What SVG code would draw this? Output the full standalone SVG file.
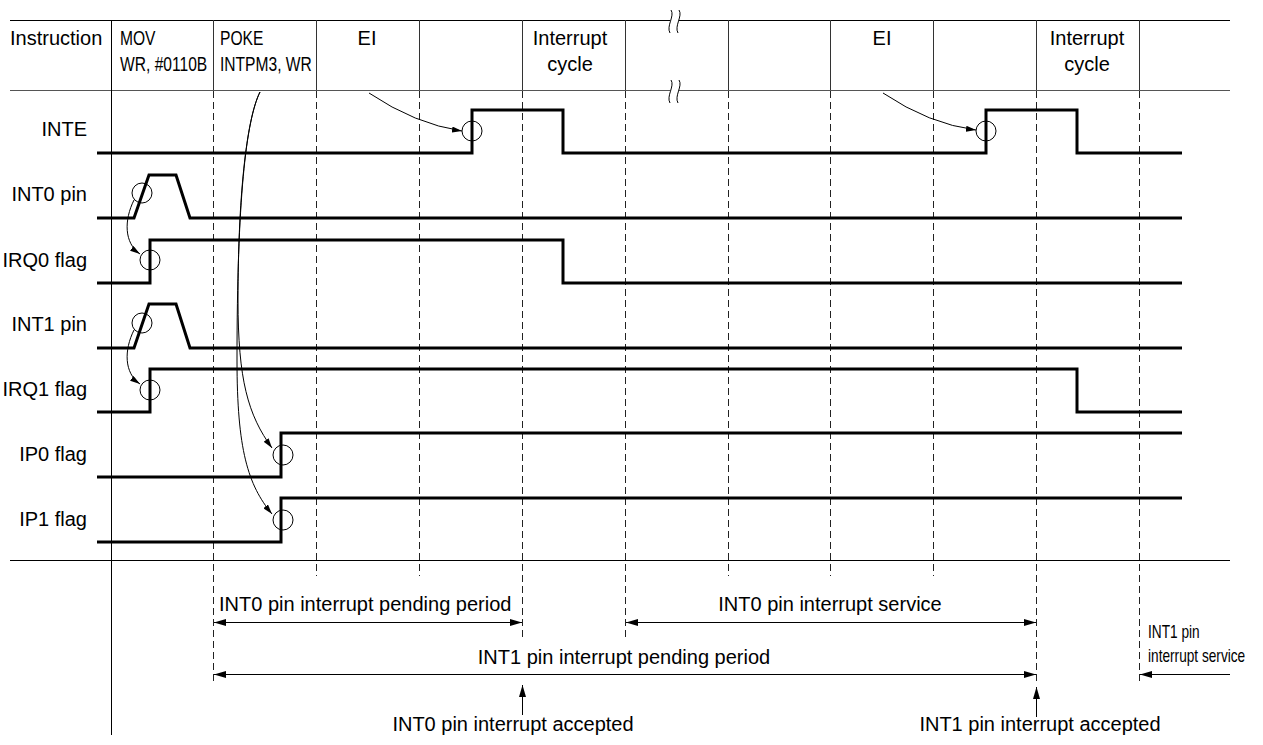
<svg xmlns="http://www.w3.org/2000/svg" width="1263" height="745" viewBox="0 0 1263 745">
<style>
  text { font-family: "Liberation Sans", Arial, Helvetica, sans-serif; font-size: 20px; fill: #000; }
  .lbl { text-anchor: end; }
  .mid { text-anchor: middle; }
  .sm { font-size: 18px; }
  .sig { fill: none; stroke: #000; stroke-width: 3; stroke-linejoin: miter; }
  .grid { stroke: #222; stroke-width: 1; stroke-dasharray: 7 4; fill: none; }
  .col { stroke: #333; stroke-width: 1; }
  .rule { stroke: #000; stroke-width: 1; }
  .mark { fill: none; stroke: #000; stroke-width: 1; }
  .cur { fill: none; stroke: #000; stroke-width: 1; marker-end: url(#ahs); }
  .dim { fill: none; stroke: #000; stroke-width: 1; }
  .both { marker-start: url(#ahb); marker-end: url(#ahb); }
  .end { marker-end: url(#ahb); }
  .brk { fill: none; stroke: #000; stroke-width: 1; }
</style>
<defs>
  <marker id="ahs" markerUnits="userSpaceOnUse" markerWidth="11" markerHeight="6" refX="10" refY="3" orient="auto">
    <path d="M0,0 L10,3 L0,6 z" fill="#000"/>
  </marker>
  <marker id="ahb" markerUnits="userSpaceOnUse" markerWidth="13" markerHeight="7" refX="12" refY="3.5" orient="auto-start-reverse">
    <path d="M0,0 L12,3.5 L0,7 z" fill="#000"/>
  </marker>
</defs>
<rect x="0" y="0" width="1263" height="745" fill="#fff"/>

<g id="frame">
  <line class="rule" x1="10" y1="20.5" x2="1230" y2="20.5"/>
  <line x1="10" y1="90.5" x2="1230" y2="90.5" stroke="#555" stroke-width="1"/>
  <line class="rule" x1="10" y1="560.5" x2="1230" y2="560.5"/>
  <line class="rule" x1="111.5" y1="20" x2="111.5" y2="735"/>
  <g id="header-cols">
    <line class="col" x1="213.5" y1="20" x2="213.5" y2="90"/>
    <line class="col" x1="316.5" y1="20" x2="316.5" y2="90"/>
    <line class="col" x1="419.5" y1="20" x2="419.5" y2="90"/>
    <line class="col" x1="522.5" y1="20" x2="522.5" y2="90"/>
    <line class="col" x1="625.5" y1="20" x2="625.5" y2="90"/>
    <line class="col" x1="728.5" y1="20" x2="728.5" y2="90"/>
    <line class="col" x1="830.5" y1="20" x2="830.5" y2="90"/>
    <line class="col" x1="933.5" y1="20" x2="933.5" y2="90"/>
    <line class="col" x1="1036.5" y1="20" x2="1036.5" y2="90"/>
    <line class="col" x1="1139.5" y1="20" x2="1139.5" y2="90"/>
  </g>
  <g id="grid">
    <line class="grid" x1="213.5" y1="91" x2="213.5" y2="682"/>
    <line class="grid" x1="316.5" y1="91" x2="316.5" y2="576"/>
    <line class="grid" x1="419.5" y1="91" x2="419.5" y2="576"/>
    <line class="grid" x1="522.5" y1="91" x2="522.5" y2="640"/>
    <line class="grid" x1="625.5" y1="91" x2="625.5" y2="640"/>
    <line class="grid" x1="728.5" y1="91" x2="728.5" y2="576"/>
    <line class="grid" x1="830.5" y1="91" x2="830.5" y2="576"/>
    <line class="grid" x1="933.5" y1="91" x2="933.5" y2="576"/>
    <line class="grid" x1="1036.5" y1="91" x2="1036.5" y2="683"/>
    <line class="grid" x1="1139.5" y1="91" x2="1139.5" y2="682"/>
  </g>
  <g id="break-marks">
    <rect x="670" y="14" width="9" height="12" fill="#fff"/>
    <rect x="670" y="84" width="9" height="12" fill="#fff"/>
    <path class="brk" d="M671,10 C675,16 666,26 670,33"/>
    <path class="brk" d="M679,10 C683,16 674,26 678,33"/>
    <path class="brk" d="M671,80 C675,86 666,96 670,103"/>
    <path class="brk" d="M679,80 C683,86 674,96 678,103"/>
  </g>
</g>

<g id="header-text">
  <text x="10" y="45">Instruction</text>
  <text transform="translate(120,45) scale(0.78,1)">MOV</text>
  <text transform="translate(120,71) scale(0.78,1)">WR, #0110B</text>
  <text transform="translate(220,45) scale(0.78,1)">POKE</text>
  <text transform="translate(220,71) scale(0.78,1)">INTPM3, WR</text>
  <text class="mid" x="367" y="45">EI</text>
  <text class="mid" x="570" y="45" font-size="20.5">Interrupt</text>
  <text class="mid" x="570" y="71" font-size="20.5">cycle</text>
  <text class="mid" x="882" y="45">EI</text>
  <text class="mid" x="1087" y="45" font-size="20.5">Interrupt</text>
  <text class="mid" x="1087" y="71" font-size="20.5">cycle</text>
</g>

<g id="sig-INTE">
  <text class="lbl" x="87" y="136">INTE</text>
  <polyline class="sig" points="97,153 472,153 472,110 563,110 563,153 986,153 986,110 1077,110 1077,153 1182,153"/>
  <circle class="mark" cx="472" cy="131" r="10"/>
  <circle class="mark" cx="986" cy="131" r="10"/>
</g>
<g id="sig-INT0">
  <text class="lbl" x="87" y="201">INT0 pin</text>
  <polyline class="sig" points="97,218 134,218 149,175 176,175 190,218 1182,218"/>
  <circle class="mark" cx="142" cy="193" r="10"/>
</g>
<g id="sig-IRQ0">
  <text class="lbl" x="87" y="267">IRQ0 flag</text>
  <polyline class="sig" points="97,283 150,283 150,240 563,240 563,283 1182,283"/>
  <circle class="mark" cx="150" cy="260" r="10"/>
</g>
<g id="sig-INT1">
  <text class="lbl" x="87" y="331">INT1 pin</text>
  <polyline class="sig" points="97,348 134,348 149,304 176,304 190,348 1182,348"/>
  <circle class="mark" cx="142" cy="323" r="10"/>
</g>
<g id="sig-IRQ1">
  <text class="lbl" x="87" y="396">IRQ1 flag</text>
  <polyline class="sig" points="97,412 150,412 150,369 1077,369 1077,412 1182,412"/>
  <circle class="mark" cx="150" cy="390" r="10"/>
</g>
<g id="sig-IP0">
  <text class="lbl" x="87" y="461">IP0 flag</text>
  <polyline class="sig" points="97,477 281,477 281,433 1182,433"/>
  <circle class="mark" cx="283" cy="455" r="10"/>
</g>
<g id="sig-IP1">
  <text class="lbl" x="87" y="526">IP1 flag</text>
  <polyline class="sig" points="97,542 281,542 281,498 1182,498"/>
  <circle class="mark" cx="283" cy="520" r="10"/>
</g>

<g id="connectors">
  <path class="cur" d="M369,93 Q415,124 462,131"/>
  <path class="cur" d="M883,93 Q929,124 976,130"/>
  <path class="cur" d="M134,200 C124,220 124,243 140,254"/>
  <path class="cur" d="M134,330 C124,350 124,373 140,384"/>
  <path class="cur" d="M260,92 C246,120 238,200 238,300 C238,380 248,415 272,448"/>
  <path class="cur" d="M260,92 C246,120 237,200 237,360 C237,450 248,485 272,514"/>

  <line class="dim both" x1="214" y1="622.5" x2="522" y2="622.5"/>
  <line class="dim both" x1="626" y1="622.5" x2="1036" y2="622.5"/>
  <line class="dim both" x1="214" y1="674.5" x2="1036" y2="674.5"/>
  <line class="dim end" x1="1230" y1="674.5" x2="1140" y2="674.5"/>
  <line class="dim end" x1="522.5" y1="715" x2="522.5" y2="685"/>
  <line class="dim end" x1="1036.5" y1="717" x2="1036.5" y2="687"/>
</g>

<g id="bottom-text">
  <text x="219" y="611">INT0 pin interrupt pending period</text>
  <text class="mid" x="830" y="611" font-size="20.5">INT0 pin interrupt service</text>
  <text class="mid" x="624" y="664">INT1 pin interrupt pending period</text>
  <text class="sm" transform="translate(1148,638) scale(0.76,1)">INT1 pin</text>
  <text class="sm" transform="translate(1148,662) scale(0.76,1)">interrupt service</text>
  <text class="mid" x="513" y="731">INT0 pin interrupt accepted</text>
  <text class="mid" x="1040" y="731">INT1 pin interrupt accepted</text>
</g>
</svg>
